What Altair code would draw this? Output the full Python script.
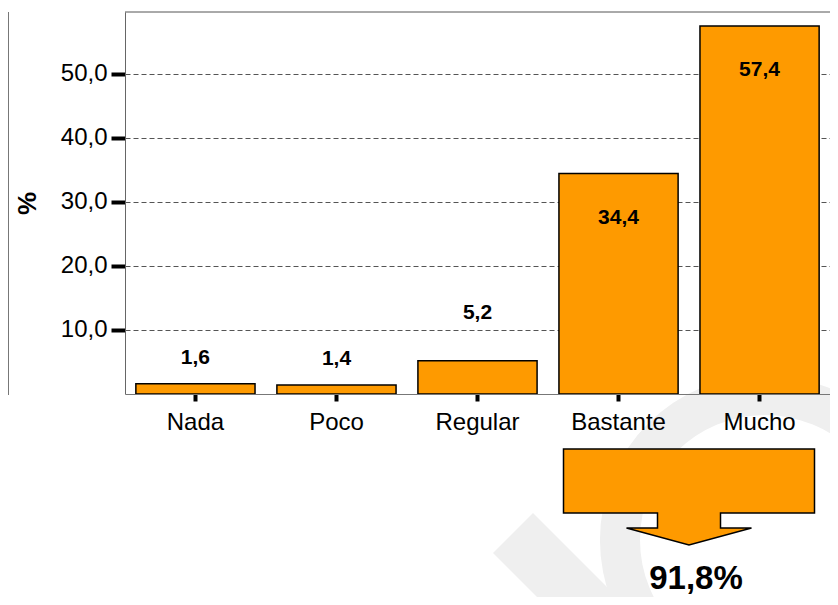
import altair as alt
import pandas as pd

# ---- data ----
categories = ["Nada", "Poco", "Regular", "Bastante", "Mucho"]
percentages = [1.6, 1.4, 5.2, 34.4, 57.4]
y_ticks = [10, 20, 30, 40, 50]
total_text = ["91,8%"]

# ---- layout / style ----
W, H = 705, 382
ORANGE = "#FE9A00"
FONT = "Liberation Sans"
WM = "#efefef"

df = pd.DataFrame({"cat": categories, "pct": percentages})
df["lbl"] = [f"{v:.1f}".replace(".", ",") for v in percentages]
one = pd.DataFrame({"k": [0]})
tot = pd.DataFrame({"t": total_text})

x_enc = alt.X(
    "cat:N",
    sort=categories,
    scale=alt.Scale(paddingInner=0.155, paddingOuter=0.077),
    axis=alt.Axis(
        title=None, labelAngle=0, labelFontSize=24, labelFont=FONT,
        labelColor="black", tickColor="black", tickWidth=4, tickSize=7,
        labelPadding=9, domainColor="#777777", domainWidth=1, grid=False,
        labelOverlap=False, zindex=1,
    ),
)
y_enc = alt.Y(
    "pct:Q",
    scale=alt.Scale(domain=[0, 59.6], nice=False, zero=True),
    axis=alt.Axis(
        values=y_ticks,
        labelExpr="replace(format(datum.value, '.1f'), '.', ',')",
        labelFontSize=24, labelFont=FONT, labelColor="black", labelPadding=4,
        tickColor="black", tickWidth=4, tickSize=14,
        domainColor="#666666", domainWidth=1,
        grid=True, gridDash=[5, 3], gridColor="#555555", gridWidth=1,
        title="%", titleFont=FONT, titleFontSize=26, titleFontWeight="bold",
        titleColor="black", titlePadding=20,
    ),
)

# faint watermark
ring = alt.Chart(one).mark_arc(color=WM).encode(
    x=alt.value(640), y=alt.value(528),
    theta=alt.value(0), theta2=alt.value(6.2832),
    radius=alt.value(165), radius2=alt.value(125),
)
band = alt.Chart(one).mark_point(
    shape="M-0.735,-0.335L-0.335,-0.735L0.735,0.335L0.335,0.735Z",
    filled=True, color=WM, opacity=1, size=40000, strokeWidth=0,
).encode(x=alt.value(441.5), y=alt.value(574.5))

bars = alt.Chart(df).mark_bar(color=ORANGE, stroke="black", strokeWidth=1.5).encode(
    x=x_enc, y=y_enc
)

labels = alt.Chart(df).transform_calculate(
    label_y="datum.pct < 10 ? (datum.pct > 4 ? datum.pct + 7.4 : datum.pct + 4) : datum.pct - 6.9"
).mark_text(fontSize=21, fontWeight="bold", font=FONT, color="black", baseline="middle").encode(
    x=alt.X("cat:N", sort=categories),
    y=alt.Y("label_y:Q"),
    text="lbl:N",
)

top_rule = alt.Chart(one).mark_rule(color="#555555", strokeWidth=1).encode(
    x=alt.value(0), x2=alt.value(W), y=alt.value(0)
)
left_edge = alt.Chart(one).mark_rule(color="#777777", strokeWidth=1).encode(
    x=alt.value(-116.5), y=alt.value(0), y2=alt.value(383)
)

arrow = alt.Chart(one).mark_point(
    shape="M-1,-0.3825L1,-0.3825L1,0.1275L0.251,0.1275L0.251,0.247L0.498,0.247L0,0.3825L-0.498,0.247L-0.251,0.247L-0.251,0.1275L-1,0.1275Z",
    filled=True, fill=ORANGE, stroke="black", strokeWidth=1.5, opacity=1, size=63001,
).encode(x=alt.value(564), y=alt.value(485))

total = alt.Chart(tot).mark_text(
    fontSize=33, fontWeight="bold", font=FONT, color="black",
    baseline="alphabetic", align="center",
).encode(x=alt.value(571), y=alt.value(577), text="t:N")

chart = alt.layer(ring, band, bars, labels, top_rule, left_edge, arrow, total).properties(
    width=W, height=H,
    padding={"left": 117, "top": 4, "right": 0, "bottom": 203},
    autosize=alt.AutoSizeParams(type="none"),
).configure_view(stroke=None)

chart.save("out.html", embed_options={"renderer": "svg", "actions": False})
